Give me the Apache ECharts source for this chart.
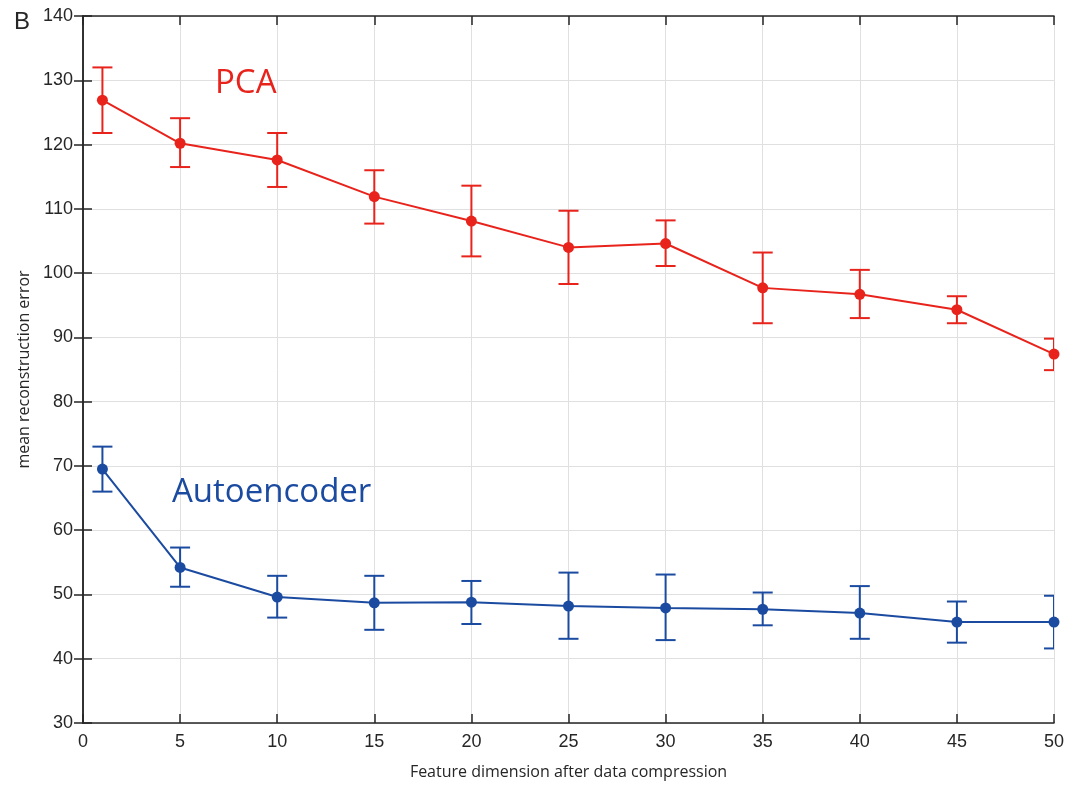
<!DOCTYPE html>
<html>
<head>
<meta charset="utf-8">
<script src="https://cdn.jsdelivr.net/npm/echarts@6/dist/echarts.min.js"></script>
<style>html,body{margin:0;padding:0;background:#fff;}#chart{width:1083px;height:786px;}</style>
</head>
<body>
<div id="chart"></div>
<script>
// Data
var dims = [1, 5, 10, 15, 20, 25, 30, 35, 40, 45, 50];
var pcaMean = [126.9, 120.2, 117.6, 111.9, 108.1, 104.0, 104.6, 97.7, 96.7, 94.3, 87.4];
var pcaLow  = [121.8, 116.5, 113.4, 107.7, 102.6, 98.3, 101.1, 92.2, 93.0, 92.2, 84.9];
var pcaHigh = [132.0, 124.1, 121.8, 116.0, 113.6, 109.7, 108.2, 103.2, 100.5, 96.4, 89.8];
var aeMean = [69.5, 54.2, 49.6, 48.7, 48.8, 48.2, 47.9, 47.7, 47.1, 45.7, 45.7];
var aeLow  = [66.0, 51.2, 46.4, 44.5, 45.4, 43.1, 42.9, 45.2, 43.1, 42.5, 41.6];
var aeHigh = [73.0, 57.3, 52.9, 52.9, 52.1, 53.4, 53.1, 50.3, 51.3, 48.9, 49.8];
var xTicks = [0, 5, 10, 15, 20, 25, 30, 35, 40, 45, 50];
var yTicks = [30, 40, 50, 60, 70, 80, 90, 100, 110, 120, 130, 140];

var RED = '#e8231c', BLUE = '#1b4ba0';

function zip(a, b) { return a.map(function (v, i) { return [v, b[i]]; }); }
function errData(lo, hi) { return dims.map(function (d, i) { return [d, lo[i], hi[i]]; }); }

function errRender(color) {
  return function (params, api) {
    var x = api.value(0);
    var p1 = api.coord([x, api.value(1)]);
    var p2 = api.coord([x, api.value(2)]);
    var hw = 10;
    var style = { stroke: color, lineWidth: 2, fill: null };
    return {
      type: 'group',
      children: [
        { type: 'line', shape: { x1: p1[0], y1: p1[1], x2: p2[0], y2: p2[1] }, style: style },
        { type: 'line', shape: { x1: p1[0] - hw, y1: p1[1], x2: p1[0] + hw, y2: p1[1] }, style: style },
        { type: 'line', shape: { x1: p2[0] - hw, y1: p2[1], x2: p2[0] + hw, y2: p2[1] }, style: style }
      ]
    };
  };
}

var chart = echarts.init(document.getElementById('chart'), null, { renderer: 'canvas' });
var labelStyle = { color: '#262626', fontSize: 18, fontFamily: 'Liberation Sans, Arial, sans-serif' };
var axisLineStyle = { lineStyle: { color: '#262626', width: 1.5 } };
var tickStyle = { inside: true, length: 9, lineStyle: { color: '#262626', width: 1.5 } };

chart.setOption({
  animation: false,
  backgroundColor: '#ffffff',
  grid: { left: 83, right: 29, top: 16, bottom: 63, containLabel: false },
  xAxis: [{
    type: 'value', min: 0, max: 50, interval: 5,
    name: 'Feature dimension after data compression',
    nameLocation: 'middle', nameGap: 41,
    nameTextStyle: { color: '#262626', fontSize: 16, fontFamily: 'Open Sans, Noto Sans, sans-serif' },
    axisLine: axisLineStyle,
    axisTick: tickStyle,
    axisLabel: Object.assign({ margin: 10, formatter: function (v) { return xTicks.indexOf(v) >= 0 ? String(v) : ''; } }, labelStyle),
    splitLine: { show: true, lineStyle: { color: '#e0e0e0', width: 1 } }
  }, {
    type: 'value', min: 0, max: 50, interval: 5, position: 'top',
    axisLine: axisLineStyle,
    axisTick: tickStyle,
    axisLabel: { show: false }, splitLine: { show: false }
  }],
  yAxis: [{
    type: 'value', min: 30, max: 140, interval: 10,
    name: 'mean reconstruction error',
    nameLocation: 'middle', nameGap: 50, nameRotate: 90,
    nameTextStyle: { color: '#262626', fontSize: 16, fontFamily: 'Open Sans, Noto Sans, sans-serif' },
    axisLine: axisLineStyle,
    axisTick: tickStyle,
    axisLabel: Object.assign({ margin: 10, formatter: function (v) { return yTicks.indexOf(v) >= 0 ? String(v) : ''; } }, labelStyle),
    splitLine: { show: true, lineStyle: { color: '#e0e0e0', width: 1 } }
  }, {
    type: 'value', min: 30, max: 140, interval: 10, position: 'right',
    axisLine: axisLineStyle,
    axisTick: tickStyle,
    axisLabel: { show: false }, splitLine: { show: false }
  }],
  graphic: [
    { type: 'text', left: 14, top: 10, z: 100, style: { text: 'B', fontSize: 24, fill: '#262626', fontFamily: 'Liberation Sans, Arial, sans-serif' } },
    { type: 'text', left: 215, top: 67, z: 100, style: { text: 'PCA', fontSize: 33, fill: RED, fontFamily: 'Open Sans, Noto Sans, sans-serif' } },
    { type: 'text', left: 172, top: 476, z: 100, style: { text: 'Autoencoder', fontSize: 33, fill: BLUE, fontFamily: 'Open Sans, Noto Sans, sans-serif' } }
  ],
  series: [
    { type: 'custom', name: 'PCA err', renderItem: errRender(RED), data: errData(pcaLow, pcaHigh), encode: { x: 0, y: [1, 2] }, z: 2, clip: true },
    { type: 'custom', name: 'AE err', renderItem: errRender(BLUE), data: errData(aeLow, aeHigh), encode: { x: 0, y: [1, 2] }, z: 2, clip: true },
    { type: 'line', name: 'PCA', data: zip(dims, pcaMean), symbol: 'circle', symbolSize: 11, clip: false,
      lineStyle: { color: RED, width: 2 }, itemStyle: { color: RED }, z: 3 },
    { type: 'line', name: 'Autoencoder', data: zip(dims, aeMean), symbol: 'circle', symbolSize: 11, clip: false,
      lineStyle: { color: BLUE, width: 2 }, itemStyle: { color: BLUE }, z: 3 }
  ]
});
</script>
</body>
</html>
